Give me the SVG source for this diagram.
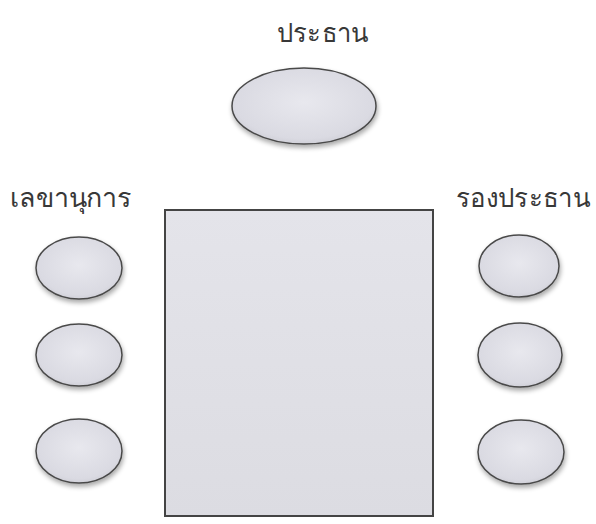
<svg xmlns="http://www.w3.org/2000/svg" width="596" height="524" viewBox="0 0 596 524">
<style>
.seat{fill:url(#g);stroke:#4a4a4a;stroke-width:1.5;filter:url(#sh)}
.lbl{font-family:"Noto Sans","DejaVu Sans",sans-serif;font-size:27px;fill:#383838}
</style>
<defs>
<radialGradient id="g" cx="0.5" cy="0.45" r="0.6">
<stop offset="0" stop-color="#e8e8ee"/>
<stop offset="0.8" stop-color="#dadae2"/>
<stop offset="1" stop-color="#cacad2"/>
</radialGradient>
<linearGradient id="tg" x1="0" y1="0" x2="0" y2="1">
<stop offset="0" stop-color="#e4e4ea"/>
<stop offset="1" stop-color="#dcdce2"/>
</linearGradient>
<filter id="sh" x="-20%" y="-20%" width="140%" height="150%">
<feGaussianBlur in="SourceAlpha" stdDeviation="2.5"/>
<feOffset dx="1" dy="3" result="b"/>
<feComponentTransfer><feFuncA type="linear" slope="0.35"/></feComponentTransfer>
<feMerge><feMergeNode/><feMergeNode in="SourceGraphic"/></feMerge>
</filter>
</defs>
<rect width="596" height="524" fill="#fff"/>
<g id="table"><rect x="165" y="210" width="268" height="306" fill="url(#tg)" stroke="#444" stroke-width="2"/></g>
<g id="chair-president"><ellipse class="seat" cx="304" cy="106" rx="72" ry="38"/><text class="lbl" x="277" y="42" textLength="91" lengthAdjust="spacingAndGlyphs">ประธาน</text></g>
<g id="secretary-label"><text class="lbl" x="10" y="207" textLength="122" lengthAdjust="spacingAndGlyphs">เลขานุการ</text></g>
<g id="vice-label"><text class="lbl" x="456" y="207" textLength="134" lengthAdjust="spacingAndGlyphs">รองประธาน</text></g>
<g id="left-1"><ellipse class="seat" cx="79" cy="268" rx="43" ry="31"/></g>
<g id="left-2"><ellipse class="seat" cx="79" cy="355" rx="43" ry="31"/></g>
<g id="left-3"><ellipse class="seat" cx="79" cy="451" rx="43" ry="32"/></g>
<g id="right-1"><ellipse class="seat" cx="519" cy="266" rx="40" ry="31"/></g>
<g id="right-2"><ellipse class="seat" cx="520" cy="355" rx="42" ry="32"/></g>
<g id="right-3"><ellipse class="seat" cx="521" cy="452" rx="43" ry="32"/></g>
<g id="connectors"/>
</svg>
